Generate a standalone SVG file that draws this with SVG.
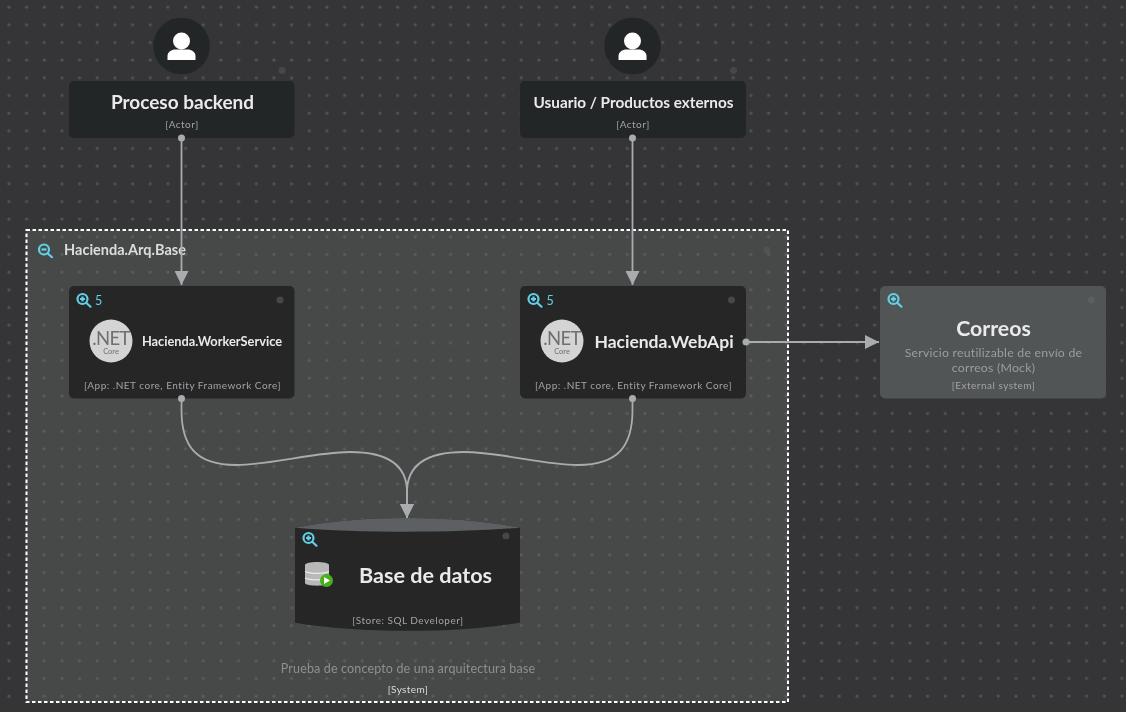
<svg xmlns="http://www.w3.org/2000/svg" width="1126" height="712" viewBox="0 0 1126 712">
<style>
text{font-family:Lato,"Open Sans","Liberation Sans",sans-serif;text-anchor:middle}
.title{fill:#e9eaea;font-weight:700;font-size:19px}
.tag{fill:#a2a3a5;font-size:10px;letter-spacing:.5px}
.box{fill:#242527;fill-opacity:.97}
.hole{fill:#46474a}
.lens{fill:none;stroke:#62d0e6;stroke-width:2.200}
.lensfill{fill:#62d0e6;font-size:12.500px;text-anchor:start}
.conn{fill:none;stroke:#a9acae;stroke-width:1.800}
.pin{fill:#a9acae}
.net{fill:#d4d4d4}
.nettext{fill:#6f6f6f}
.desc{fill:#9b9d9f;font-size:12.300px;letter-spacing:.22px}
</style>
<defs>
<filter id="soft" filterUnits="userSpaceOnUse" x="0" y="0" width="1126" height="712"><feGaussianBlur stdDeviation="0.45"/></filter>
<pattern id="dots" width="17.667" height="17.667" patternUnits="userSpaceOnUse" x="0" y="-1.800"><circle cx="8.900" cy="8.900" r="1.600" fill="#525357"/></pattern>
<marker id="arrow" viewBox="0 0 14 14" refX="14" refY="7" markerWidth="14" markerHeight="14" markerUnits="userSpaceOnUse" orient="auto"><path d="M0 0L14 7L0 14Z" fill="#a9acae"/></marker>
<g id="zoomin"><circle cx="-1.500" cy="-1.500" r="5" class="lens"/><path d="M2.200 2.200L6.500 6.200" class="lens" stroke-linecap="round"/><path d="M-4 -1.500H1M-1.500 -4V1" class="lens" stroke-width="1.500"/></g>
<g id="person"><circle cx="0" cy="-5" r="8.500" fill="#fff"/><path d="M-14 14V10C-14 6 -10 3.500 -6 3.500H6C10 3.500 14 6 14 10V14Z" fill="#fff"/></g>
<g id="netlogo"><circle r="21.500" class="net"/><text y="3.500" font-size="18.500" class="nettext" style="letter-spacing:-.6px">.NET</text><text y="12.500" font-size="7.500" class="nettext">Core</text></g>
</defs>
<rect width="1126" height="712" fill="#343538"/>
<g filter="url(#soft)">
<rect width="1126" height="712" fill="#343538"/>
<rect width="1126" height="712" fill="url(#dots)"/>
<g id="system-hacienda-arq-base">
<rect x="26.500" y="230" width="761.500" height="472" fill="#6e6f70" fill-opacity=".33" stroke="#fff" stroke-width="2" stroke-dasharray="3.500 2.500"/>
<circle cx="767" cy="250" r="3.500" fill="#525356"/>
<g transform="translate(45 251)"><circle cx="-1" cy="-1.500" r="5" class="lens"/><path d="M2.500 2.200L7 6.200" class="lens" stroke-linecap="round"/><path d="M-3.500 -1.500H1.500" class="lens" stroke-width="1.500"/></g>
<text x="125" y="255" style="fill:#dcdddd;font-weight:700;font-size:14.500px">Hacienda.Arq.Base</text>
<text x="408" y="673" style="fill:#8e8f91;font-size:12.500px;letter-spacing:.15px">Prueba de concepto de una arquitectura base</text>
<text x="408" y="693" style="fill:#dcdcdd;font-size:10px;letter-spacing:.4px">[System]</text>
</g>
<g id="connectors">
<path class="conn" d="M181.500 138V285" marker-end="url(#arrow)"/>
<path class="conn" d="M632.500 138V285" marker-end="url(#arrow)"/>
<path class="conn" d="M746 342H879" marker-end="url(#arrow)"/>
<path class="conn" d="M181.500 398V410C181.500 445 195 465 236 465C270 465 315 452 350 452C388 452 407 465 407 492V518" marker-end="url(#arrow)"/>
<path class="conn" d="M632.500 398V410C632.500 445 619 465 578 465C544 465 499 452 464 452C426 452 407 465 407 492V518" marker-end="url(#arrow)"/>
</g>
<g id="actor-proceso-backend">
<circle cx="181.500" cy="46" r="28.300" class="box"/>
<use href="#person" x="181.500" y="46"/>
<rect x="69" y="81" width="225.500" height="57" rx="5" class="box"/>
<circle cx="282" cy="70.500" r="3.500" class="hole"/>
<text x="182.500" y="109" class="title">Proceso backend</text>
<text x="182" y="128" class="tag">[Actor]</text>
</g>
<g id="actor-usuario">
<circle cx="632.500" cy="46" r="28.300" class="box"/>
<use href="#person" x="632.500" y="46"/>
<rect x="520" y="81" width="226" height="57" rx="5" class="box"/>
<circle cx="733.500" cy="70.500" r="3.500" class="hole"/>
<text x="633.500" y="108" class="title" style="font-size:15.300px">Usuario / Productos externos</text>
<text x="633" y="128" class="tag">[Actor]</text>
</g>
<g id="app-worker">
<rect x="69" y="286" width="225.500" height="112.500" rx="5" class="box"/>
<circle cx="280" cy="300" r="3.500" class="hole"/>
<use href="#zoomin" x="84" y="300.500"/>
<text x="95" y="305" class="lensfill">5</text>
<use href="#netlogo" x="111" y="341"/>
<text x="212" y="345.500" class="title" style="font-size:12.800px">Hacienda.WorkerService</text>
<text x="182.500" y="389" class="tag">[App: .NET core, Entity Framework Core]</text>
</g>
<g id="app-webapi">
<rect x="520" y="286" width="226" height="112.500" rx="5" class="box"/>
<circle cx="731.500" cy="300" r="3.500" class="hole"/>
<use href="#zoomin" x="535" y="300.500"/>
<text x="546.500" y="305" class="lensfill">5</text>
<use href="#netlogo" x="562" y="341"/>
<text x="664" y="348" class="title" style="font-size:17.500px">Hacienda.WebApi</text>
<text x="633.500" y="389" class="tag">[App: .NET core, Entity Framework Core]</text>
</g>
<g id="external-correos">
<rect x="880" y="286" width="226" height="112.500" rx="5" fill="#515456"/>
<rect x="880" y="286" width="226" height="112.500" rx="5" fill="url(#dots)" opacity=".9"/>
<circle cx="1091.500" cy="300" r="3.500" fill="#5c5e61"/>
<use href="#zoomin" x="895" y="300.500"/>
<text x="993.500" y="336" class="title" style="font-size:21.300px">Correos</text>
<text x="993.500" y="356.500" class="desc">Servicio reutilizable de envío de</text>
<text x="993.500" y="371.500" class="desc">correos (Mock)</text>
<text x="993.500" y="389" class="tag">[External system]</text>
</g>
<g id="store-base-de-datos">
<path d="M295 527.700C360 514.700 455 514.700 520 527.700V622.700C455 633.500 360 633.500 295 622.700Z" class="box"/>
<path d="M295 527.700C360 514.700 455 514.700 520 527.700C455 533 360 533 295 527.700Z" fill="#5c6062"/>
<circle cx="506" cy="536" r="3.500" class="hole"/>
<use href="#zoomin" x="310" y="539.500"/>
<g>
<path d="M305 565C305 561 329 561 329 565V583C329 586.500 305 586.500 305 583Z" fill="#b8b8b8"/>
<path d="M305 571.500C310 574 324 574 329 571.500M305 578C310 580.500 324 580.500 329 578" fill="none" stroke="#eee" stroke-width="1.200"/>
<circle cx="326.500" cy="580.500" r="6.500" fill="#46b01a"/>
<path d="M324 577V584L330 580.500Z" fill="#fff"/>
</g>
<text x="425.500" y="583" class="title" style="font-size:21.600px">Base de datos</text>
<text x="408" y="624" class="tag">[Store: SQL Developer]</text>
</g>
<g id="connector-pins">
<circle cx="181.500" cy="138" r="3.500" class="pin"/>
<circle cx="632.500" cy="138" r="3.500" class="pin"/>
<circle cx="181.500" cy="398.500" r="3.500" class="pin"/>
<circle cx="632.500" cy="398.500" r="3.500" class="pin"/>
<circle cx="746" cy="342" r="3.500" class="pin"/>
</g>
</g>
</svg>
